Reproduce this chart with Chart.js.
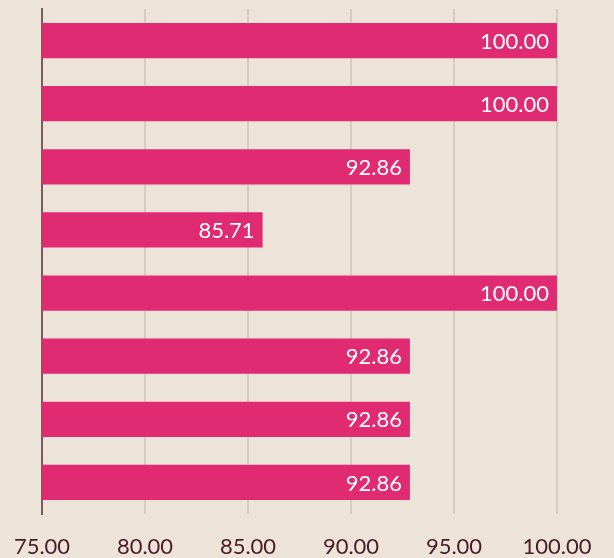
<!DOCTYPE html>
<html>
<head>
<meta charset="utf-8">
<script src="https://cdn.jsdelivr.net/npm/chart.js@4/dist/chart.umd.min.js"></script>
<style>
  html, body { margin: 0; padding: 0; background: #ede4d9; }
  #wrap { width: 614px; height: 558px; }
</style>
</head>
<body>
<div id="wrap"><canvas id="barras"></canvas></div>
<script>
// datos
const categorias = ['1', '2', '3', '4', '5', '6', '7', '8'];
const valores = [100, 100, 92.86, 85.71, 100, 92.86, 92.86, 92.86];
const ticksX = [75, 80, 85, 90, 95, 100];

// etiquetas dentro de cada barra
const etiquetasBarras = {
    id: 'etiquetasBarras',
    afterDatasetsDraw(chart) {
        const ctx = chart.ctx;
        const meta = chart.getDatasetMeta(0);
        ctx.save();
        ctx.font = '22px Lato';
        ctx.fillStyle = '#ffffff';
        ctx.textAlign = 'right';
        ctx.textBaseline = 'middle';
        meta.data.forEach(function(bar, i) {
            ctx.fillText(valores[i].toFixed(2), bar.x - 8, bar.y + 1);
        });
        ctx.restore();
    }
};

const ctxBarras = document.getElementById('barras').getContext('2d');
const barrasChart = new Chart(ctxBarras, {
    type: 'bar',
    data: {
        labels: categorias,
        datasets: [{
            data: valores,
            backgroundColor: '#e02b72',
            borderWidth: 0,
            barPercentage: 0.56,
            categoryPercentage: 1
        }]
    },
    options: {
        indexAxis: 'y',
        responsive: true,
        maintainAspectRatio: false,
        animation: false,
        layout: { padding: { top: 9, left: 34, right: 57, bottom: 0 } },
        plugins: {
            legend: { display: false },
            tooltip: { enabled: false }
        },
        scales: {
            x: {
                min: 75,
                max: 100,
                afterBuildTicks: function(scale) {
                    scale.ticks = ticksX.map(function(v) { return { value: v }; });
                },
                grid: {
                    color: '#d6cbc0',
                    lineWidth: 2,
                    drawTicks: true,
                    tickLength: 22,
                    tickColor: 'rgba(0,0,0,0)'
                },
                border: { display: false },
                ticks: {
                    color: '#4b1a2a',
                    font: { family: 'Lato', size: 22, lineHeight: 1 },
                    padding: 0,
                    maxRotation: 0,
                    callback: function(v) { return Number(v).toFixed(2); }
                }
            },
            y: {
                grid: { display: false },
                border: { display: true, color: '#7a5a5e', width: 2 },
                ticks: { display: false }
            }
        }
    },
    plugins: [etiquetasBarras]
});
</script>
</body>
</html>
